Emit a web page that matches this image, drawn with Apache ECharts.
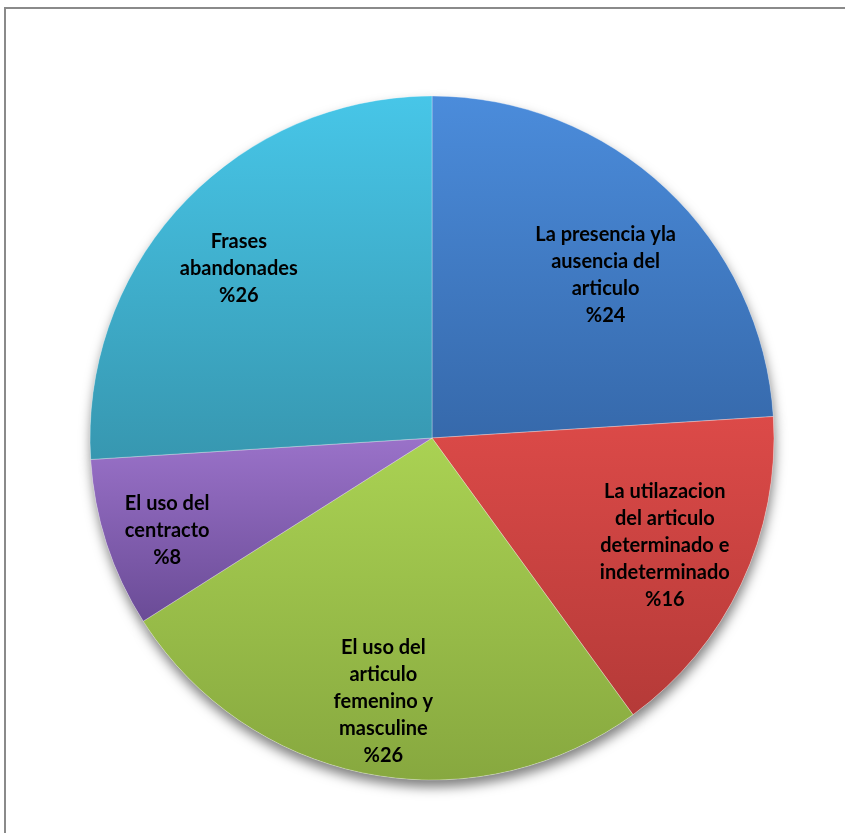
<!DOCTYPE html>
<html>
<head>
<meta charset="utf-8">
<script src="https://cdn.jsdelivr.net/npm/echarts@6/dist/echarts.min.js"></script>
<style>
html,body{margin:0;padding:0;background:#fff;}
#chart{width:845px;height:833px;}
</style>
</head>
<body>
<div id="chart"></div>
<script>
var categories = [
  "La presencia yla\nausencia del\narticulo",
  "La utilazacion\ndel articulo\ndeterminado e\nindeterminado",
  "El uso del\narticulo\nfemenino y\nmasculine",
  "El uso del\ncentracto",
  "Frases\nabandonades"
];
var values = [24, 16, 26, 8, 26];
var topColors = ["#4b8cdb", "#dc4a48", "#aad253", "#9a72c9", "#47c6e8"];
var bottomColors = ["#3669ab", "#b53a38", "#87a83f", "#6a4b96", "#3797b0"];

function grad(i) {
  return new echarts.graphic.LinearGradient(0, 0, 0, 1, [
    {offset: 0, color: topColors[i]},
    {offset: 1, color: bottomColors[i]}
  ]);
}

// small per-label nudges (styling only) to mimic the original's label placement
var LABEL_NUDGE = [[-4, 26], [-2, -3], [0, 9], [-18, 12], [-4, 8]];

var mainData = categories.map(function (c, i) {
  return {name: c, value: values[i], itemStyle: {color: grad(i)}};
});
var plainData = categories.map(function (c, i) {
  return {name: c, value: values[i]};
});
var labelData = categories.map(function (c, i) {
  return {name: c, value: values[i], label: {offset: LABEL_NUDGE[i]}};
});

var CENTER = [432, 438];
var R = 342;

var chart = echarts.init(document.getElementById('chart'), null, {renderer: 'canvas'});
chart.setOption({
  backgroundColor: '#ffffff',
  animation: false,
  graphic: [{
    type: 'rect',
    shape: {x: 5, y: 8, width: 860, height: 840},
    style: {fill: 'none', stroke: '#8a8a8a', lineWidth: 2},
    silent: true,
    z: 0
  }],
  series: [
    {
      type: 'pie',
      center: CENTER,
      radius: [0, R],
      startAngle: 90,
      clockwise: true,
      silent: true,
      data: plainData,
      itemStyle: {
        color: '#ffffff',
        shadowBlur: 12,
        shadowOffsetY: 7,
        shadowOffsetX: 1,
        shadowColor: 'rgba(0,0,0,0.5)'
      },
      label: {show: false},
      labelLine: {show: false},
      z: 1
    },
    {
      type: 'pie',
      center: CENTER,
      radius: [0, R],
      startAngle: 90,
      clockwise: true,
      silent: true,
      data: mainData,
      itemStyle: {
        borderColor: 'rgba(255,255,255,0.3)',
        borderWidth: 1
      },
      label: {show: false},
      labelLine: {show: false},
      z: 2
    },
    {
      type: 'pie',
      center: CENTER,
      radius: [R * 0.5, R],
      startAngle: 90,
      clockwise: true,
      silent: true,
      data: labelData,
      itemStyle: {color: 'rgba(0,0,0,0)'},
      label: {
        show: true,
        position: 'inside',
        formatter: function (p) { return p.name + '\n%' + p.value; },
        fontFamily: 'Lato',
        fontWeight: 'bold',
        fontSize: 20,
        lineHeight: 27,
        color: '#000000',
        align: 'center'
      },
      labelLine: {show: false},
      z: 3
    }
  ]
});
</script>
</body>
</html>
